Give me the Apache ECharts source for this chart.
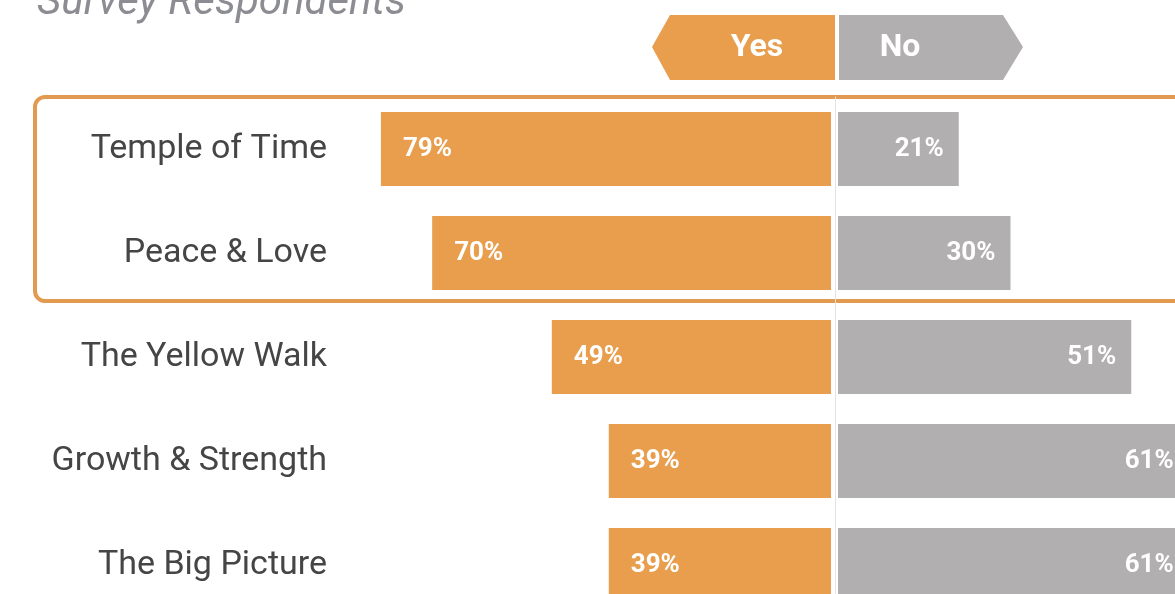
<!DOCTYPE html>
<html>
<head>
<meta charset="utf-8">
<script src="https://cdn.jsdelivr.net/npm/echarts@6/dist/echarts.min.js"></script>
<style>
  html, body { margin: 0; padding: 0; background: #fff; }
  #chart { width: 1175px; height: 594px; }
</style>
</head>
<body>
<div id="chart"></div>
<script>
// Survey answers per theme (percent of respondents)
const themes = ['Temple of Time', 'Peace & Love', 'The Yellow Walk', 'Growth & Strength', 'The Big Picture'];
const yesShare = [79, 70, 49, 39, 39];
const noShare = [21, 30, 51, 61, 61];
const answerNames = ['Yes', 'No'];
const titleText = 'Survey Respondents';

const ORANGE = '#E89E4C';
const GREY = '#B2AFB0';
const FONT = 'Roboto, "Noto Sans", sans-serif';

const chart = echarts.init(document.getElementById('chart'));

const valueLabel = (pos, dist) => ({
  show: true,
  position: pos,
  distance: dist,
  color: '#fff',
  fontFamily: FONT,
  fontWeight: 'bold',
  fontSize: 26,
  formatter: (p) => p.value + '%'
});

chart.setOption({
  animation: false,
  title: {
    text: titleText,
    left: 32,
    top: -23,
    textStyle: { fontFamily: FONT, fontStyle: 'italic', fontWeight: 'normal', fontSize: 42, color: '#8C8C93' }
  },
  grid: [
    { left: 341, width: 490, top: 97, height: 520, outerBoundsMode: 'none' },
    { left: 838, width: 575, top: 97, height: 520, outerBoundsMode: 'none' }
  ],
  xAxis: [
    { gridIndex: 0, type: 'value', min: 0, max: 86, inverse: true, show: false },
    { gridIndex: 1, type: 'value', min: 0, max: 100, show: false }
  ],
  yAxis: [
    {
      gridIndex: 0, type: 'category', data: themes, inverse: true, position: 'left',
      axisLine: { show: false, onZero: false }, axisTick: { show: false }, splitLine: { show: false },
      axisLabel: { margin: 14, fontFamily: FONT, fontSize: 34, color: '#454545' }
    },
    {
      gridIndex: 1, type: 'category', data: themes, inverse: true, position: 'left', offset: 3,
      axisLine: { show: true, onZero: false, lineStyle: { color: '#E4E4E4', width: 1 } },
      axisTick: { show: false }, axisLabel: { show: false }, splitLine: { show: false }
    }
  ],
  series: [
    {
      name: answerNames[0], type: 'bar', xAxisIndex: 0, yAxisIndex: 0,
      data: yesShare, barWidth: 74, itemStyle: { color: ORANGE },
      label: valueLabel('insideLeft', 22)
    },
    {
      name: answerNames[1], type: 'bar', xAxisIndex: 1, yAxisIndex: 1,
      data: noShare, barWidth: 74, itemStyle: { color: GREY },
      label: valueLabel('insideRight', 15)
    }
  ],
  graphic: [
    // highlight frame around the two leading themes
    {
      type: 'rect', z: -1,
      shape: { x: 35, y: 97, width: 1200, height: 204, r: 10 },
      style: { fill: 'none', stroke: '#E29A50', lineWidth: 4 }
    },
    // arrow-shaped key tags
    {
      type: 'polygon',
      shape: { points: [[652, 47], [670, 15], [835, 15], [835, 80], [670, 80]] },
      style: { fill: ORANGE }
    },
    {
      type: 'polygon',
      shape: { points: [[839, 15], [1003, 15], [1023, 47], [1003, 80], [839, 80]] },
      style: { fill: GREY }
    },
    {
      type: 'text', x: 757, y: 48,
      style: { text: answerNames[0], fill: '#fff', font: 'bold 32px ' + FONT, textAlign: 'center', textVerticalAlign: 'middle' }
    },
    {
      type: 'text', x: 900, y: 48,
      style: { text: answerNames[1], fill: '#fff', font: 'bold 32px ' + FONT, textAlign: 'center', textVerticalAlign: 'middle' }
    }
  ]
});
</script>
</body>
</html>
